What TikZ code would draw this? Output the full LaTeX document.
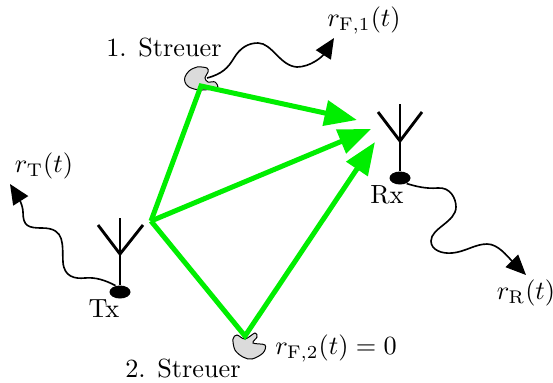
\documentclass[tikz,border=0pt]{standalone}
\usepackage{amsmath,amssymb}
\usepackage{xcolor}
\usetikzlibrary{arrows.meta,positioning,calc,shapes.geometric}
\definecolor{raygreen}{RGB}{0,238,0}
\tikzset{
  ray/.style={line width=2pt,raygreen,miter limit=10,-{Triangle[length=13pt,width=10pt]}},
  wave/.style={line width=.65pt,black,-{Triangle[length=8pt,width=7pt]}},
  mast/.style={line width=1.15pt,black},
  foot/.style={ellipse,fill=black,minimum width=8.4pt,minimum height=5.2pt,inner sep=0pt},
  blob/.style={draw=black,line width=.4pt,fill=gray!28},
  lab/.style={inner sep=0pt,scale=1.05}
}
\begin{document}
\begin{tikzpicture}[x=.4pt,y=-.4pt]
  \useasboundingbox (0,0) rectangle (553,382);
  \node[foot] (txfoot) at (120,292) {};
  \node[foot] (rxfoot) at (400,178) {};
  \coordinate (txtop) at (120,218);
  \coordinate (txfork) at (120,254);
  \coordinate (txl) at (98,225);
  \coordinate (txr) at (143,225);
  \coordinate (rxtop) at (400,104);
  \coordinate (rxfork) at (400,141);
  \coordinate (rxl) at (378,112);
  \coordinate (rxr) at (422,112);
  \draw[mast] (txfoot)--(txtop);
  \draw[mast] (txl)--(txfork)--(txr);
  \draw[mast] (rxfoot)--(rxtop);
  \draw[mast] (rxl)--(rxfork)--(rxr);
  \draw[blob] plot[smooth cycle,tension=.55] coordinates {(185,77) (189,71) (197,67) (207,68) (208,72) (205,78) (208,82) (215,82) (217,88) (200,90) (189,87) (185,82)};
  \draw[blob] plot[smooth cycle,tension=.55] coordinates {(233,339) (237,335) (245,339) (255,333) (257,337) (253,343) (265,345) (263,353) (252,359) (243,357) (235,350)};
  \coordinate (tx) at (151,221);
  \coordinate (sone) at (201,86);
  \coordinate (stwo) at (245,336);
  \coordinate (tipa) at (357,120);
  \coordinate (tipb) at (371,129);
  \coordinate (tipc) at (375,142);
  \draw[ray] (tx)--(sone)--(tipa);
  \draw[ray] (tx)--(tipb);
  \draw[ray] (tx)--(stwo)--(tipc);
  \coordinate (startf) at (207,78);
  \coordinate (endt) at (10,184);
  \coordinate (endf) at (334,38);
  \coordinate (endr) at (526,275);
  \draw[wave] (txfoot.125) .. controls (105,280) and (95,277) .. (85,278) .. controls (75,279) and (64,277) .. (63,262) .. controls (62,245) and (66,228) .. (42,228) .. controls (28,228) and (23,226) .. (23,212) .. controls (23,205) and (17,195) .. (endt);
  \draw[wave] (startf) .. controls (222,74) and (228,68) .. (234,58) .. controls (240,48) and (248,43) .. (258,43) .. controls (272,43) and (280,66) .. (297,67) .. controls (310,67) and (322,57) .. (endf);
  \draw[wave] (rxfoot.-40) .. controls (415,186) and (425,189) .. (438,188) .. controls (450,187) and (456,198) .. (456,207) .. controls (456,222) and (431,228) .. (431,241) .. controls (431,250) and (442,254) .. (452,253) .. controls (465,252) and (475,244) .. (487,244) .. controls (498,244) and (507,256) .. (endr);
  \node[lab] (first) at (164,48) {1. Streuer};
  \node[lab] (second) at (183,369) {2. Streuer};
  \node[lab] (txlab) at (104,309) {Tx};
  \node[lab] (rxlab) at (387,195) {Rx};
  \node[lab] (rt) at (44,166) {$r_{\mathrm{T}}(t)$};
  \node[lab] (rfa) at (364,20) {$r_{\mathrm{F},1}(t)$};
  \node[lab] (rfb) at (336,348) {$r_{\mathrm{F},2}(t)=0$};
  \node[lab] (rr) at (526,293) {$r_{\mathrm{R}}(t)$};
\end{tikzpicture}
\end{document}
